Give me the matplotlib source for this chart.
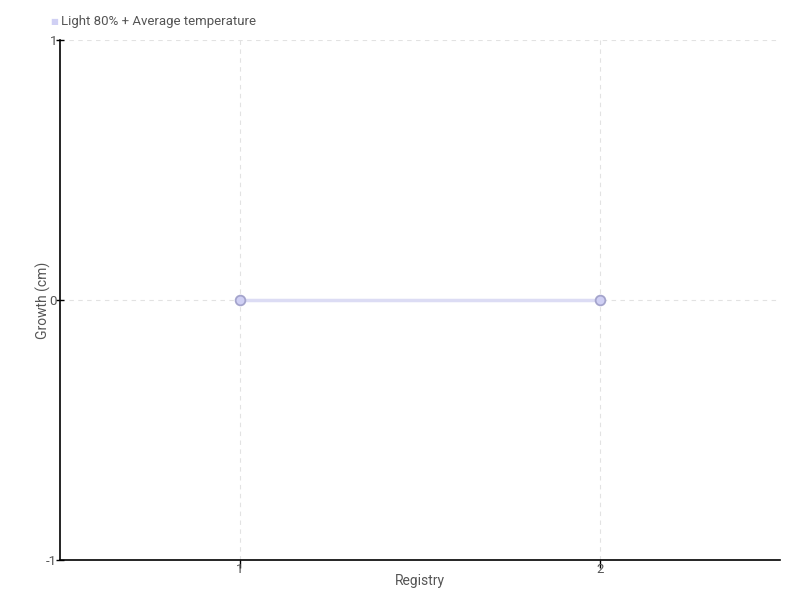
import matplotlib
matplotlib.use("Agg")
import matplotlib.pyplot as plt

# data
registry = [1, 2]
growth = [0, 0]
series_name = "Light 80% + Average temperature"

plt.rcParams['font.family'] = ['Roboto', 'DejaVu Sans']
plt.rcParams['axes.unicode_minus'] = False

fig = plt.figure(figsize=(8, 6), dpi=100)
ax = fig.add_axes([60/800, 40/600, 720/800, 520/600])

ax.plot(registry, growth, color='#dcdcf4', linewidth=2.5, zorder=3)
ax.plot(registry, growth, linestyle='none', marker='o', markersize=7,
        markerfacecolor='#d0d0f4', markeredgecolor='#a4a4cc',
        markeredgewidth=1.3, zorder=4)

ax.set_xlim(0.5, 2.5)
ax.set_ylim(-1, 1)
ax.set_xticks(registry)
ax.set_yticks([-1, 0, 1])
ax.grid(True, color='#e2e2e2', linestyle=(0, (4, 4)), linewidth=0.8)

for s in ['top', 'right']:
    ax.spines[s].set_visible(False)
for s in ['left', 'bottom']:
    ax.spines[s].set_color('black')
    ax.spines[s].set_linewidth(1.2)

ax.tick_params(axis='y', direction='inout', length=6, width=1, pad=-1)
ax.tick_params(axis='x', direction='out', length=6, width=1, pad=-4)
ax.tick_params(axis='both', labelsize=9.5, labelcolor='#555555')

ax.set_xlabel("Registry", fontsize=10, color='#555555')
ax.set_ylabel("Growth (cm)", fontsize=10, color='#555555')
ax.xaxis.set_label_coords(0.5, -0.026)
ax.yaxis.set_label_coords(-0.013, 0.5)

fig.text(50/800, 1 - 22/600, "\u25a0", fontsize=6, color='#d0d0f4', va='center')
fig.text(61/800, 1 - 21/600, series_name, fontsize=9.5, color='#555555', va='center')

fig.savefig("out.png", dpi=100)
